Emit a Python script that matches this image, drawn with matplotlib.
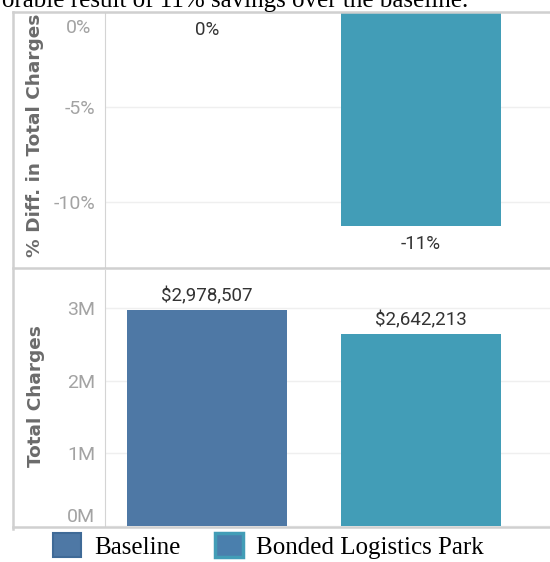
import numpy as np
import matplotlib.pyplot as plt
from matplotlib.lines import Line2D
from matplotlib.patches import Patch

# data
cats = ["Baseline", "Bonded Logistics Park"]
charges = [2978507, 2642213]
pct_diff = [0.0, -11.29]
charge_lbls = ["$2,978,507", "$2,642,213"]
pct_lbls = ["0%", "-11%"]
colors = ["#4e78a5", "#429db7"]

W, H = 550, 562
fig = plt.figure(figsize=(5.5, 5.62), dpi=100)

def px(x0, y0, x1, y1):
    # pixel box (top-left origin) -> figure fraction
    return [x0 / W, 1 - y1 / H, (x1 - x0) / W, (y1 - y0) / H]

sans = ["Roboto", "DejaVu Sans"]
tick_c = "#a3a3a3"
x = np.arange(len(cats))
XL = (-0.477, 1.603)

#---------------- top panel: % diff ----------------#
ax1 = fig.add_axes(px(105, 12, 550, 268))
ax1.bar(x, pct_diff, width=0.75, color=colors)
ax1.set_ylim(-13.5, 0)
ax1.set_xlim(*XL)
ax1.set_yticks([0, -5, -10])
ax1.set_yticklabels(["", "-5%", "-10%"])
ax1.text(-0.03, 1 - 16 / 256, "0%", transform=ax1.transAxes, ha="right", va="center",
         fontsize=14, color=tick_c, family=sans)
for i, (v, l) in enumerate(zip(pct_diff, pct_lbls)):
    ax1.text(i, v - 0.45, l, ha="center", va="top", fontsize=13.5,
             color="#333333", family=sans)

#---------------- bottom panel: total charges ----------------#
ax2 = fig.add_axes(px(105, 270, 550, 526))
ax2.bar(x, charges, width=0.75, color=colors)
ax2.set_ylim(0, 3.53e6)
ax2.set_xlim(*XL)
ax2.set_yticks([0, 1e6, 2e6, 3e6])
ax2.set_yticklabels(["0M", "1M", "2M", "3M"])
for i, (v, l) in enumerate(zip(charges, charge_lbls)):
    ax2.text(i, v + 0.07e6, l, ha="center", va="bottom", fontsize=13.5,
             color="#333333", family=sans)

for ax in (ax1, ax2):
    for s in ax.spines.values():
        s.set_visible(False)
    ax.spines["left"].set_visible(True)
    ax.spines["left"].set_color("#d4d4d4")
    ax.set_xticks([])
    ax.tick_params(axis="y", length=0, labelsize=14, labelcolor=tick_c, pad=7)
    for t in ax.get_yticklabels():
        t.set_family(sans)
    ax.yaxis.grid(True, color="#efefef", lw=1)
    ax.set_axisbelow(True)

ax2.get_yticklabels()[0].set_va("bottom")

# axis titles
fig.text(35 / W, 1 - 135 / H, "% Diff. in Total Charges", rotation=90,
         ha="center", va="center", fontsize=13.3, color="#6b6b6b", weight="bold")
fig.text(36 / W, 1 - 396 / H, "Total Charges", rotation=90,
         ha="center", va="center", fontsize=13.3, color="#6b6b6b", weight="bold")

# frame lines
fc = "#d0d0d0"
for xs, ys in [([13, 550], [12, 12]), ([13, 13], [12, 529]), ([13, 550], [268, 268]),
               ([13, 550], [527, 527])]:
    fig.add_artist(Line2D([v / W for v in xs], [1 - v / H for v in ys],
                          color=fc, lw=1.8, transform=fig.transFigure))

# legend
handles = [Patch(facecolor=colors[0], edgecolor="#3f6a97", lw=1.5),
           Patch(facecolor="#4a7fad", edgecolor=colors[1], lw=2.5)]
fig.legend(handles, cats, loc="center", bbox_to_anchor=(0.488, 1 - 546 / H),
           ncol=2, frameon=False, prop={"family": "Liberation Serif", "size": 18},
           handlelength=1.1, handleheight=1.1, columnspacing=1.4, handletextpad=0.52,
           borderpad=0.1)

# clipped caption above chart
fig.text(468 / W, 1 - 7 / H, "favorable result of 11% savings over the baseline.",
         ha="right", va="baseline", family="Liberation Serif", fontsize=18, color="black")

fig.savefig("out.png", dpi=100)
